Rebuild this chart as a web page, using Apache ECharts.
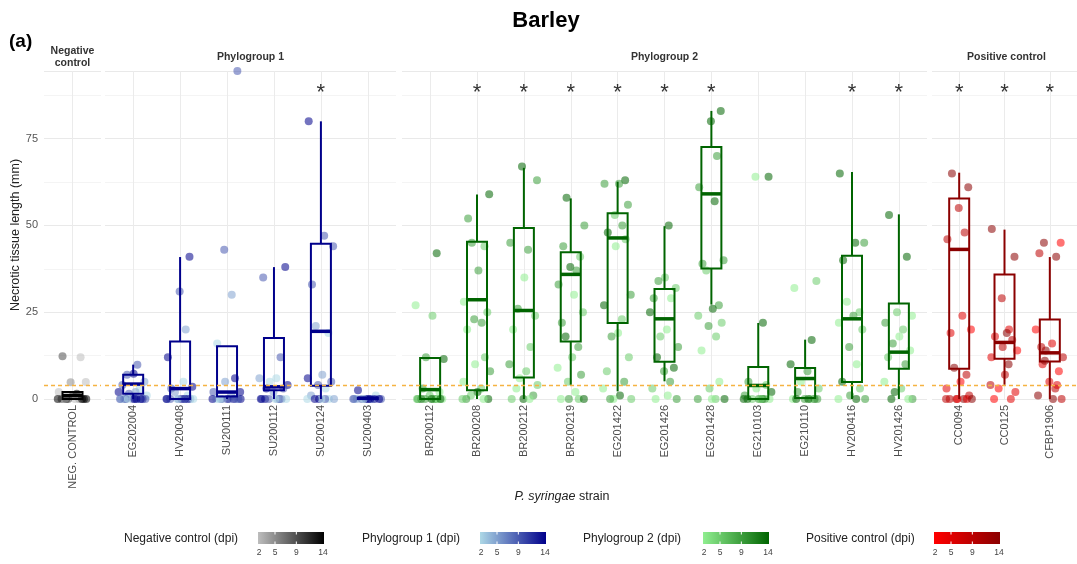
<!DOCTYPE html>
<html>
<head>
<meta charset="utf-8">
<script src="https://cdn.jsdelivr.net/npm/echarts@6/dist/echarts.min.js"></script>
<style>
  html, body { margin: 0; padding: 0; background: #fff; }
  #chart { width: 1077px; height: 564px; }
</style>
</head>
<body>
<div id="chart"></div>
<script>
// strains per facet
const negCats = ['NEG. CONTROL'];
const p1Cats = ['EG202004', 'HV200408', 'SU200111', 'SU200112', 'SU200124', 'SU200403'];
const p2Cats = ['BR200112', 'BR200208', 'BR200212', 'BR200219', 'EG201422', 'EG201426',
  'EG201428', 'EG210103', 'EG210110', 'HV200416', 'HV201426'];
const posCats = ['CC0094', 'CC0125', 'CFBP1906'];

// box stats: [lower whisker, Q1, median, Q3, upper whisker]
const negBoxes = [[0, 0, 1, 2, 2]];
const p1Boxes = [
  [0, 1.5, 4.3, 7, 9.9],
  [0, 0, 3, 16.6, 40.9],
  [0, 0.7, 2, 15.2, 15.2],
  [0, 2.5, 3.5, 17.6, 38],
  [0, 3.8, 19.5, 44.7, 80],
  [0, 0, 0.2, 0.4, 0.4]
];
const p2Boxes = [
  [0, 0, 2.7, 11.8, 11.8],
  [0, 2.5, 28.6, 45.3, 58.9],
  [0, 6.2, 25.5, 49.3, 66.6],
  [4.1, 16.6, 35.9, 42.3, 57.8],
  [2.2, 21.9, 46.4, 53.5, 62.6],
  [5.1, 10.7, 23.1, 31.7, 49.8],
  [27.2, 37.6, 59.1, 72.6, 83],
  [0, 0, 3.9, 9.2, 21.9],
  [0, 0.3, 5.9, 8.9, 17.1],
  [0, 4.9, 23.1, 41.3, 65.4],
  [0, 8.7, 13.5, 27.5, 53.2]
];
const posBoxes = [
  [0, 8.7, 43.1, 57.8, 65.2],
  [4.1, 11.6, 16.3, 35.9, 48.8],
  [0, 10.8, 13.3, 22.9, 40.9]
];

// observations: [necrotic length (mm), dpi]
const negPoints = [
  [[12.3, 9], [12, 2], [4.8, 5], [4.9, 2], [2, 2], [1.5, 14], [1, 9], [0, 14], [0, 14], [0, 9], [0, 5],
   [0, 14], [0, 2], [0, 9], [0, 14], [0, 5], [0, 14]]
];
const p1Points = [
  [[9.9, 9], [7.3, 14], [7, 9], [5, 5], [4, 9], [3, 2], [2, 14], [2, 5], [1.5, 9], [1, 2], [0, 14], [0, 14],
   [0, 9], [0, 5], [0, 2], [0, 14], [0, 9], [0, 5], [0, 2], [0, 14], [0, 14], [0, 9]],
  [[41, 14], [31, 9], [20, 5], [12, 14], [5, 2], [3.5, 14], [3, 9], [2, 5], [1, 2], [0, 14], [0, 9], [0, 5],
   [0, 2], [0, 14], [0, 9], [0, 14], [0, 5], [0, 2], [0, 14], [0, 9]],
  [[94.5, 9], [43, 9], [30, 5], [16, 2], [6, 14], [5, 5], [2, 14], [2, 9], [1, 5], [0, 14], [0, 9], [0, 5],
   [0, 2], [0, 14], [0, 14], [0, 9], [0, 5], [0, 14], [0, 2], [0, 9]],
  [[38, 14], [35, 9], [12, 9], [6, 5], [6, 2], [5, 2], [4, 14], [3, 14], [3, 9], [2, 5], [0, 14], [0, 9],
   [0, 5], [0, 2], [0, 14], [0, 9], [0, 5], [0, 2], [0, 14]],
  [[80, 14], [47, 9], [44, 9], [33, 9], [21, 5], [19, 2], [7, 5], [6, 14], [5, 9], [4, 9], [3, 2], [1, 5],
   [0, 2], [0, 14], [0, 5], [0, 2], [0, 9], [0, 2], [0, 14]],
  [[2.5, 14], [1, 2], [0, 14], [0, 9], [0, 5], [0, 2], [0, 14], [0, 9], [0, 14], [0, 5], [0, 14], [0, 9],
   [0, 14], [0, 2]]
];
const p2Points = [
  [[42, 14], [27, 2], [24, 5], [12, 9], [11.5, 14], [3, 9], [2, 2], [1, 5], [0, 14], [0, 9], [0, 5], [0, 2],
   [0, 14], [0, 9], [0, 2], [0, 14], [0, 5], [0, 14]],
  [[59, 14], [52, 9], [45, 9], [44, 5], [37, 9], [28, 2], [25, 5], [23, 9], [22, 9], [20, 2], [12, 5],
   [10, 2], [8, 9], [5, 2], [3, 5], [2, 14], [1, 5], [0, 14], [0, 9], [0, 2], [0, 5]],
  [[67, 14], [63, 9], [45, 9], [43, 9], [35, 2], [26, 9], [24, 5], [20, 2], [15, 5], [10, 9], [8, 5], [6, 2],
   [4, 5], [3, 2], [1, 9], [0, 14], [0, 2], [0, 5]],
  [[58, 14], [50, 9], [44, 9], [41, 5], [38, 14], [37, 9], [33, 9], [30, 2], [25, 5], [22, 9], [18, 14],
   [15, 9], [12, 5], [9, 2], [7, 9], [5, 5], [2, 2], [0, 2], [0, 5], [0, 9], [0, 14]],
  [[63, 14], [62, 9], [62, 9], [56, 9], [53, 5], [50, 9], [48, 14], [46, 5], [44, 2], [30, 9], [27, 14],
   [23, 5], [19, 2], [18, 9], [12, 5], [8, 5], [5, 9], [3, 2], [1, 14], [0, 2], [0, 5], [0, 9]],
  [[50, 14], [35, 5], [34, 9], [32, 5], [29, 9], [29, 2], [25, 14], [20, 2], [18, 5], [15, 9], [12, 14],
   [9, 14], [8, 9], [5, 9], [3, 5], [1, 2], [0, 9], [0, 2]],
  [[83, 14], [80, 14], [70, 9], [61, 9], [57, 14], [40, 9], [39, 9], [37, 5], [27, 9], [26, 14], [24, 5],
   [22, 5], [21, 9], [18, 5], [14, 2], [5, 2], [3, 5], [0, 14], [0, 9], [0, 5], [0, 2]],
  [[64, 14], [64, 2], [22, 14], [5, 9], [4, 5], [3, 2], [2, 14], [1, 9], [0, 14], [0, 9], [0, 5], [0, 2],
   [0, 14], [0, 9], [0, 14], [0, 5]],
  [[34, 5], [32, 2], [17, 14], [10, 14], [8, 9], [5, 2], [3, 5], [2, 9], [0, 14], [0, 9], [0, 5], [0, 2],
   [0, 14], [0, 9], [0, 14]],
  [[65, 14], [45, 14], [45, 9], [40, 14], [28, 2], [25, 5], [24, 9], [22, 2], [20, 5], [15, 9], [10, 2],
   [5, 14], [3, 5], [1, 9], [0, 9], [0, 2], [0, 14]],
  [[53, 14], [41, 14], [25, 5], [24, 2], [22, 9], [20, 5], [18, 2], [16, 9], [14, 2], [12, 5], [10, 9],
   [5, 2], [3, 5], [2, 14], [0, 9], [0, 14], [0, 2]]
];
const posPoints = [
  [[65, 14], [61, 14], [55, 9], [48, 9], [46, 9], [24, 5], [20, 2], [19, 5], [9, 14], [7, 9], [5, 2],
   [3, 5], [1, 9], [0, 14], [0, 14], [0, 9], [0, 5], [0, 2], [0, 14], [0, 9]],
  [[49, 14], [41, 14], [29, 9], [20, 5], [18, 5], [17, 9], [15, 9], [14, 2], [12, 5], [10, 14], [7, 9],
   [3, 2], [2, 5], [0, 2], [0, 5], [4, 9], [19, 14]],
  [[45, 14], [45, 2], [42, 9], [41, 14], [20, 2], [16, 5], [14, 14], [12, 9], [10, 5], [8, 2], [5, 5],
   [3, 9], [1, 14], [0, 14], [0, 9], [15, 9], [11, 14], [4, 5]]
];

// strains marked significant
const starStrains = ['SU200124', 'BR200208', 'BR200212', 'BR200219', 'EG201422', 'EG201426',
  'EG201428', 'HV200416', 'HV201426', 'CC0094', 'CC0125', 'CFBP1906'];
const threshold = 3.9;
const yTicks = [0, 25, 50, 75];
const dpiTicks = [2, 5, 9, 14];

// horizontal jitter offsets (category units)
const JITTER = [-0.21, 0.17, -0.04, 0.28, -0.29, 0.09, 0.01, -0.13, 0.24, -0.23, 0.14, -0.31, 0.05,
  -0.09, 0.29, -0.16, 0.2, -0.01, 0.12, -0.26, 0.07, 0.26, -0.19, -0.11, 0.16, 0.03, -0.28, 0.22, -0.06, 0.1];

const FONT = '"Liberation Sans", Arial, sans-serif';
const TOP = 71, H = 328, YMAX = 94.5, STAR_Y = 89;

const panels = [
  { cats: negCats, boxes: negBoxes, pts: negPoints, left: 44, width: 57, lo: '#bdbdbd', hi: '#000000', edge: '#000000', title: 'Negative\ncontrol' },
  { cats: p1Cats, boxes: p1Boxes, pts: p1Points, left: 105, width: 291, lo: '#add8e6', hi: '#00008b', edge: '#00008b', title: 'Phylogroup 1' },
  { cats: p2Cats, boxes: p2Boxes, pts: p2Points, left: 402, width: 525, lo: '#90ee90', hi: '#006400', edge: '#006400', title: 'Phylogroup 2' },
  { cats: posCats, boxes: posBoxes, pts: posPoints, left: 932, width: 149, lo: '#ff0000', hi: '#8b0000', edge: '#8b0000', title: 'Positive control' }
];

const grid = [], xAxis = [], yAxis = [], series = [], visualMap = [], graphic = [];

panels.forEach((p, gi) => {
  const n = p.cats.length;
  const idx = p.cats.map((c, i) => i);
  grid.push({ left: p.left, top: TOP, width: p.width, height: H });
  xAxis.push({
    type: 'value', gridIndex: gi, min: -0.6, max: n - 0.4,
    axisLine: { show: false },
    axisTick: { show: false, customValues: idx },
    axisLabel: {
      customValues: idx, rotate: 90, margin: 6, fontSize: 11, color: '#4d4d4d', fontFamily: FONT,
      formatter: v => p.cats[Math.round(v)] || ''
    },
    splitLine: { show: true, lineStyle: { color: '#ebebeb', width: 1 } }
  });
  yAxis.push({
    type: 'value', gridIndex: gi, min: 0, max: YMAX, interval: 12.5,
    axisLine: { show: false }, axisTick: { show: false },
    axisLabel: {
      show: gi === 0, fontSize: 11, color: '#555', fontFamily: FONT, margin: 6,
      formatter: v => (yTicks.indexOf(v) >= 0 ? String(v) : '')
    },
    splitLine: { show: true, lineStyle: { color: ['#e9e9e9', '#f4f4f4'], width: 1 } },
    name: gi === 0 ? 'Necrotic tissue length (mm)' : '',
    nameLocation: 'middle', nameGap: 16, nameRotate: 90,
    nameTextStyle: { fontSize: 12.5, color: '#222', fontFamily: FONT }
  });

  // jittered observations
  const scat = [];
  p.pts.forEach((list, ci) => list.forEach((o, k) => {
    scat.push([ci + JITTER[(k + ci * 11 + gi * 5) % JITTER.length], o[0], o[1]]);
  }));
  series.push({
    type: 'scatter', xAxisIndex: gi, yAxisIndex: gi, data: scat, symbolSize: 8,
    itemStyle: { opacity: 0.55 }, silent: true, z: 2
  });
  visualMap.push({
    type: 'continuous', show: false, min: 2, max: 14, dimension: 2,
    seriesIndex: series.length - 1, inRange: { color: [p.lo, p.hi] }
  });

  // boxes
  series.push({
    type: 'custom', xAxisIndex: gi, yAxisIndex: gi, silent: true, z: 3,
    data: p.boxes.map((b, ci) => [ci].concat(b)),
    encode: { x: 0, y: [1, 2, 3, 4, 5] },
    renderItem: (params, api) => {
      const x = api.value(0);
      const lo = api.coord([x, api.value(1)]);
      const q1 = api.coord([x, api.value(2)]);
      const md = api.coord([x, api.value(3)]);
      const q3 = api.coord([x, api.value(4)]);
      const hi = api.coord([x, api.value(5)]);
      const hw = 10;
      const st = { stroke: p.edge, lineWidth: 2, fill: null };
      return {
        type: 'group', children: [
          { type: 'line', shape: { x1: hi[0], y1: hi[1], x2: q3[0], y2: q3[1] }, style: st },
          { type: 'line', shape: { x1: q1[0], y1: q1[1], x2: lo[0], y2: lo[1] }, style: st },
          { type: 'rect', shape: { x: q3[0] - hw, y: q3[1], width: hw * 2, height: Math.max(q1[1] - q3[1], 0.5) }, style: st },
          { type: 'line', shape: { x1: md[0] - hw, y1: md[1], x2: md[0] + hw, y2: md[1] }, style: { stroke: p.edge, lineWidth: 3.5 } }
        ]
      };
    },
    markLine: {
      silent: true, symbol: 'none', label: { show: false },
      lineStyle: { type: [4, 3], color: '#f5b342', width: 1.3 },
      data: [{ yAxis: threshold }]
    }
  });

  // significance stars
  const stars = idx.filter(i => starStrains.indexOf(p.cats[i]) >= 0).map(i => [i, STAR_Y]);
  if (stars.length) {
    series.push({
      type: 'custom', xAxisIndex: gi, yAxisIndex: gi, silent: true, z: 5, data: stars,
      renderItem: (params, api) => {
        const c = api.coord([api.value(0), api.value(1)]);
        return {
          type: 'text', x: c[0], y: c[1] + 3,
          style: { text: '*', fontSize: 22, fill: '#333', align: 'center', verticalAlign: 'middle', fontFamily: FONT }
        };
      }
    });
  }

  // facet strip title
  graphic.push({
    type: 'text', x: p.left + p.width / 2, y: 57,
    style: {
      text: p.title, align: 'center', verticalAlign: 'middle', fontSize: 10.5, fontWeight: 'bold',
      fill: '#333', fontFamily: FONT, lineHeight: 12
    }
  });
});

// legend: colour bars
const legendItems = [
  { label: 'Negative control (dpi)', tx: 124, bx: 258, lo: '#bdbdbd', hi: '#000000' },
  { label: 'Phylogroup 1 (dpi)', tx: 362, bx: 480, lo: '#add8e6', hi: '#00008b' },
  { label: 'Phylogroup 2 (dpi)', tx: 583, bx: 703, lo: '#90ee90', hi: '#006400' },
  { label: 'Positive control (dpi)', tx: 806, bx: 934, lo: '#ff0000', hi: '#8b0000' }
];
const BW = 66, BY = 532, BH = 12;
legendItems.forEach(l => {
  graphic.push({
    type: 'text', x: l.tx, y: 539,
    style: { text: l.label, fontSize: 12, fill: '#222', verticalAlign: 'middle', fontFamily: FONT }
  });
  graphic.push({
    type: 'rect', shape: { x: l.bx, y: BY, width: BW, height: BH },
    style: {
      fill: new echarts.graphic.LinearGradient(0, 0, 1, 0, [
        { offset: 0, color: l.lo }, { offset: 1, color: l.hi }
      ])
    }
  });
  dpiTicks.forEach(d => {
    const tx = l.bx + 1 + (d - 2) / 12 * (BW - 2);
    if (d !== 2 && d !== 14) {
      graphic.push({ type: 'line', shape: { x1: tx, y1: BY, x2: tx, y2: BY + 2.5 }, style: { stroke: '#fff', lineWidth: 1 } });
      graphic.push({ type: 'line', shape: { x1: tx, y1: BY + BH - 2.5, x2: tx, y2: BY + BH }, style: { stroke: '#fff', lineWidth: 1 } });
    }
    graphic.push({
      type: 'text', x: tx, y: 553,
      style: { text: String(d), fontSize: 8.5, fill: '#444', align: 'center', verticalAlign: 'middle', fontFamily: FONT }
    });
  });
});

graphic.push({
  type: 'text', x: 9, y: 42,
  style: { text: '(a)', fontSize: 19, fontWeight: 'bold', fill: '#000', verticalAlign: 'middle', fontFamily: FONT }
});
graphic.push({
  type: 'text', x: 562, y: 497,
  style: {
    text: '{i|P. syringae} strain', align: 'center', verticalAlign: 'middle', fontSize: 12.5, fill: '#222',
    fontFamily: FONT,
    rich: { i: { fontStyle: 'italic', fontSize: 12.5, fill: '#222', fontFamily: FONT } }
  }
});

const chart = echarts.init(document.getElementById('chart'), null, { renderer: 'canvas' });
chart.setOption({
  backgroundColor: '#fff',
  animation: false,
  title: {
    text: 'Barley', left: 541, top: 5, textAlign: 'center',
    textStyle: { fontSize: 22, fontWeight: 'bold', color: '#000', fontFamily: FONT }
  },
  grid, xAxis, yAxis, visualMap, series, graphic
});
</script>
</body>
</html>
